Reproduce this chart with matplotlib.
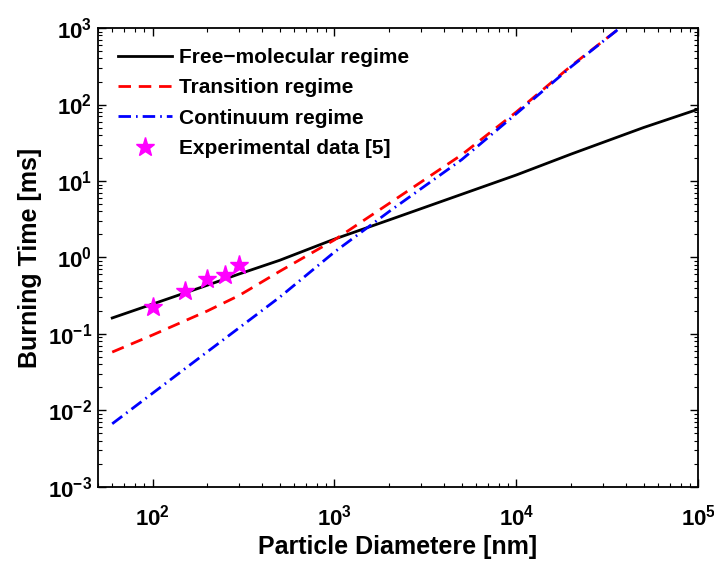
import numpy as np
import matplotlib
matplotlib.use('Agg')
import matplotlib.pyplot as plt

plt.rcParams['font.family'] = ['Liberation Sans', 'DejaVu Sans']
plt.rcParams['font.weight'] = 'bold'
plt.rcParams['mathtext.fontset'] = 'custom'
plt.rcParams['mathtext.rm'] = 'Liberation Sans:bold'
plt.rcParams['mathtext.it'] = 'Liberation Sans:bold'
plt.rcParams['mathtext.bf'] = 'Liberation Sans:bold'

# Werte
d_free = [60, 100, 200, 300, 500, 1000, 2000, 5000, 1e4, 2e4, 5e4, 1e5]
t_free = [0.162, 0.246, 0.434, 0.61, 0.92, 1.74, 3.1, 6.7, 12, 22.5, 50, 87]

d_trans = [60, 100, 200, 300, 500, 1000, 2000, 5000, 1e4, 2e4, 3.7e4]
t_trans = [0.058, 0.097, 0.20, 0.32, 0.66, 1.70, 5.1, 22, 80, 320, 1000]

d_cont = [60, 100, 200, 300, 500, 1000, 2000, 5000, 1e4, 2e4, 3.7e4]
t_cont = [0.0067, 0.0168, 0.0585, 0.121, 0.303, 1.18, 4.0, 19, 76, 312, 1000]

d_exp = [100, 150, 200, 250, 300]
t_exp = [0.225, 0.365, 0.52, 0.59, 0.80]

fig, ax = plt.subplots(figsize=(7.14, 5.61), dpi=100)
fig.subplots_adjust(left=0.137, right=0.978, bottom=0.132, top=0.950)

ax.loglog(d_free, t_free, color='black', linestyle='-', linewidth=2, label='Free\u2212molecular regime')
ax.loglog(d_trans, t_trans, color='red', linestyle='--', linewidth=2, dashes=(4.5, 2.8), label='Transition regime')
ax.loglog(d_cont, t_cont, color='blue', linestyle='-.', linewidth=2, dashes=(4.5, 1.8, 0.6, 1.8), label='Continuum regime')
ax.loglog(d_exp, t_exp, linestyle='none', marker='*', markersize=14, color='magenta',
          markeredgecolor='magenta', label='Experimental data [5]')

ax.set_xlim(50, 1e5)
ax.set_ylim(1e-3, 1e3)

xt = [1e2, 1e3, 1e4, 1e5]
yt = [1e-3, 1e-2, 1e-1, 1e0, 1e1, 1e2, 1e3]
ax.set_xticks(xt)
ax.set_xticklabels([r'$10^{%d}$' % int(np.log10(v)) for v in xt])
ax.set_yticks(yt)
ax.set_yticklabels([r'$10^{%d}$' % int(round(np.log10(v))) for v in yt])

ax.tick_params(which='both', direction='in', top=True, right=True, labelsize=16)
ax.tick_params(which='major', length=6, width=1)
ax.tick_params(which='minor', length=3, width=0.8)
ax.tick_params(axis='x', which='major', pad=13)
ax.tick_params(axis='y', which='major', pad=4)
for s in ax.spines.values():
    s.set_linewidth(1.3)

ax.set_xlabel('Particle Diametere [nm]', fontsize=18, fontweight='bold', labelpad=3)
ax.set_ylabel('Burning Time [ms]', fontsize=18, fontweight='bold', labelpad=4)

leg = ax.legend(loc='upper left', frameon=False, fontsize=15, handlelength=2.6,
                labelspacing=0.55, borderaxespad=0.55, handletextpad=0.35)
for t in leg.get_texts():
    t.set_fontweight('bold')

plt.savefig('out.png', dpi=100)
